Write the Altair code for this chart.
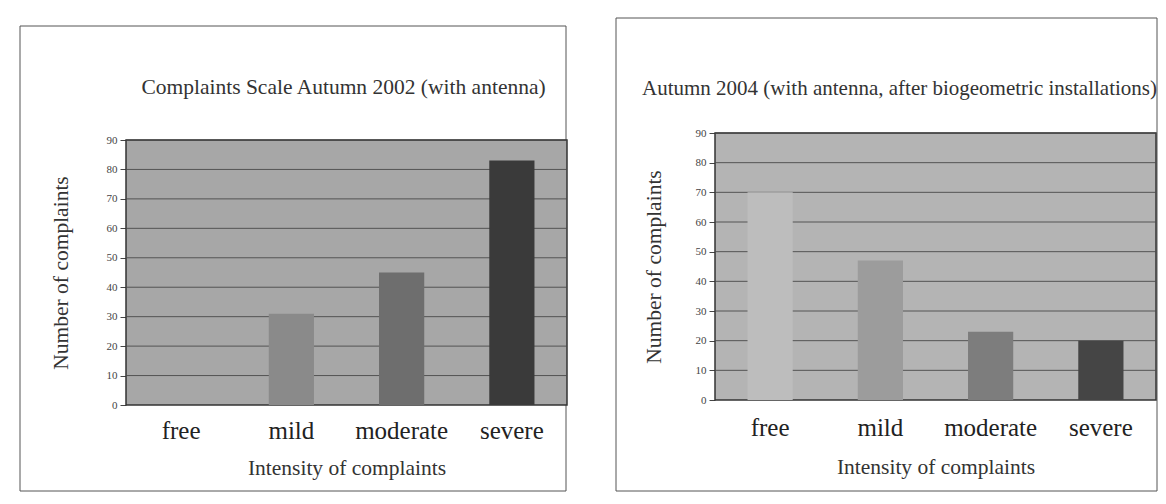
import altair as alt
import pandas as pd

categories = ["free", "mild", "moderate", "severe"]
counts_2002 = [0, 31, 45, 83]
counts_2004 = [70, 47, 23, 20]
colors_2002 = ["#9a9a9a", "#8a8a8a", "#6e6e6e", "#3a3a3a"]
colors_2004 = ["#bdbdbd", "#9c9c9c", "#7d7d7d", "#454545"]
y_ticks = [0, 10, 20, 30, 40, 50, 60, 70, 80, 90]
y_max = 90

title_2002 = "Complaints Scale Autumn 2002 (with antenna)"
title_2004 = "Autumn 2004 (with antenna, after biogeometric installations)"
x_title = "Intensity of complaints"
y_title = "Number of complaints"

FONT = "Liberation Serif"
W = 441


def panel(values, colors, title, t_size, height, top_gap, bg, frame,
          t_offset, t_dx, lab_pad, xt_pad, yt_pad):
    df = pd.DataFrame({"Intensity": categories, "Count": values})
    yscale = alt.Scale(domain=[0, y_max], nice=False, range=[height, top_gap])
    y_axis = alt.Axis(
        title=y_title, values=y_ticks, tickCount=len(y_ticks),
        domain=False, grid=False, labelOverlap=False,
        tickSize=6, tickColor="#444",
        labelFont=FONT, labelFontSize=11, labelColor="#444",
        labelPadding=3,
        titleFont=FONT, titleFontSize=21.5, titleFontWeight="normal",
        titleColor="#333", titlePadding=yt_pad,
    )
    bars = alt.Chart(df).mark_bar().encode(
        x=alt.X(
            "Intensity:N",
            sort=categories,
            scale=alt.Scale(paddingInner=0.59, paddingOuter=0.295),
            axis=alt.Axis(
                title=x_title, labelAngle=0, ticks=False, domain=False,
                labelFont=FONT, labelFontSize=25, labelPadding=lab_pad,
                labelColor="#222",
                titleFont=FONT, titleFontSize=21.5, titleFontWeight="normal",
                titleColor="#333", titlePadding=xt_pad,
            ),
        ),
        y=alt.Y("Count:Q", scale=yscale, axis=y_axis),
        color=alt.Color(
            "Intensity:N",
            scale=alt.Scale(domain=categories, range=colors),
            legend=None,
        ),
    )
    one = pd.DataFrame({"k": [0]})
    # plot-area background and border, placed in data units (0..90)
    plot_bg = alt.Chart(one).mark_rect(
        fill=bg, stroke="#333", strokeWidth=1.5
    ).encode(
        x=alt.value(0), x2=alt.value(W),
        y=alt.Y(datum=y_max, scale=yscale, axis=y_axis),
        y2=alt.datum(0),
    )
    grid = alt.Chart(pd.DataFrame({"tick": y_ticks[1:]})).mark_rule(
        color="#4a4a4a", strokeWidth=1, opacity=0.9
    ).encode(
        y=alt.Y("tick:Q", scale=yscale, axis=y_axis),
        x=alt.value(0), x2=alt.value(W),
    )
    fx0, fx1, fy0, fy1 = frame
    frame_rect = alt.Chart(one).mark_rect(
        filled=False, stroke="#555", strokeWidth=1
    ).encode(
        x=alt.value(fx0), x2=alt.value(fx1), y=alt.value(fy0), y2=alt.value(fy1)
    )
    return alt.layer(frame_rect, plot_bg, grid, bars).properties(
        width=W,
        height=height,
        view=alt.ViewBackground(fill=None, stroke=None),
        title=alt.TitleParams(
            title, font=FONT, fontSize=t_size, fontWeight="normal", color="#333",
            anchor="middle", frame="group", offset=t_offset, dx=t_dx,
        ),
    )


left = panel(counts_2002, colors_2002, title_2002, 21.5, 272, 7, "#a7a7a7",
             (-106, 440, -107, 358), -73, -3, 13, 14, 34)
right = panel(counts_2004, colors_2004, title_2004, 21, 267, 0, "#b4b4b4",
              (-99, 442, -115, 358), -81, -36, 15, 16, 30)

chart = alt.concat(left, right, columns=2, spacing=47).resolve_scale(
    color="independent", y="independent", x="independent"
).properties(
    padding={"left": 11, "top": 9, "right": 0, "bottom": 0},
    background="white",
)

chart.save("out.html", embed_options={"renderer": "svg", "actions": False})
